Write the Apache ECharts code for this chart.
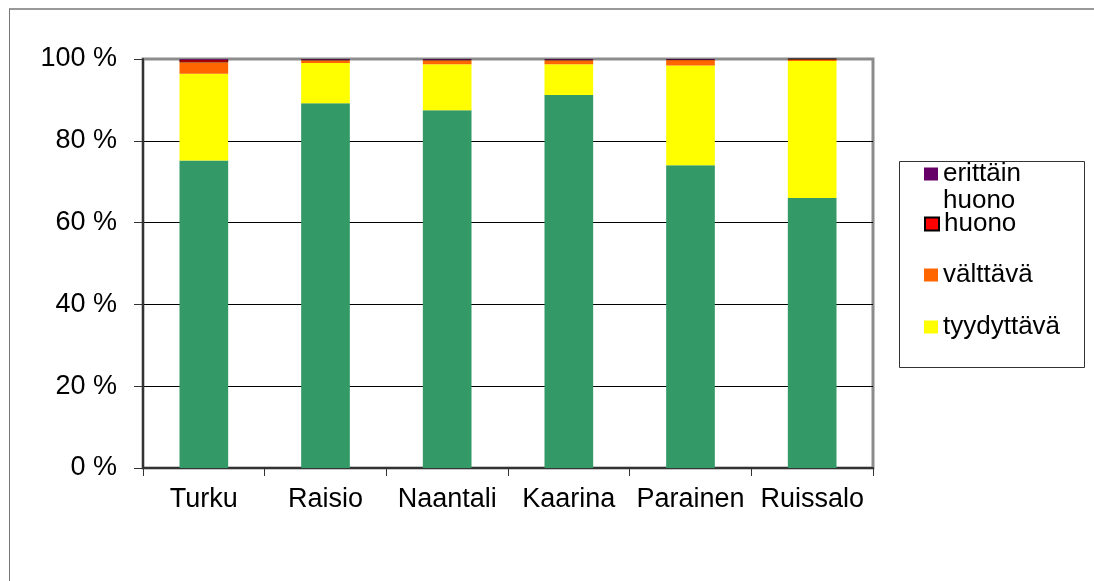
<!DOCTYPE html>
<html>
<head>
<meta charset="utf-8">
<style>
  html, body { margin: 0; padding: 0; background: #fff; }
  #chart { width: 1094px; height: 581px; }
</style>
<script src="https://cdn.jsdelivr.net/npm/echarts@6/dist/echarts.min.js"></script>
</head>
<body>
<div id="chart"></div>
<script>
// data (percent of each town)
var towns = ["Turku", "Raisio", "Naantali", "Kaarina", "Parainen", "Ruissalo"];
var hyva = [75.2, 89.2, 87.5, 91.2, 74.0, 66.0];
var tyydyttava = [21.2, 9.8, 11.2, 7.5, 24.4, 33.5];
var valttava = [2.8, 0.7, 1.0, 1.0, 1.4, 0.5];
var huono = [0.6, 0.2, 0.2, 0.2, 0.1, 0.0];
var erittainHuono = [0.2, 0.1, 0.1, 0.1, 0.1, 0.0];
var yTicks = [0, 20, 40, 60, 80, 100];

var font = "'Liberation Sans', Arial, sans-serif";
var chart = echarts.init(document.getElementById("chart"));

function bar(name, data, color, border) {
  return {
    name: name,
    type: "bar",
    stack: "all",
    barWidth: "40%",
    data: data,
    animation: false,
    itemStyle: {
      color: color,
      borderColor: border || color,
      borderWidth: border ? 0.6 : 0
    }
  };
}

// each legend entry placed by itself, like the excel legend
function legendItem(name, top) {
  return {
    data: [name],
    left: 924,
    top: top,
    padding: 0,
    itemWidth: 14,
    itemHeight: 13,
    itemGap: 0,
    selectedMode: false,
    icon: "rect",
    textStyle: { fontFamily: font, fontSize: 26, color: "#000", lineHeight: 30 }
  };
}

chart.setOption({
  backgroundColor: "#fff",
  animation: false,
  grid: {
    left: 143,
    right: 221,
    top: 59,
    bottom: 113,
    show: true,
    borderColor: "#8c8c8c",
    borderWidth: 3
  },
  legend: [
    Object.assign(legendItem("erittäin huono", 159), {
      formatter: function () { return "erittäin"; }
    }),
    legendItem("huono", 209),
    legendItem("välttävä", 260),
    legendItem("tyydyttävä", 312)
  ],
  xAxis: {
    type: "category",
    data: towns,
    axisLine: { lineStyle: { color: "#333", width: 2 } },
    axisTick: { show: true, length: 8, lineStyle: { color: "#333" } },
    axisLabel: { color: "#000", fontFamily: font, fontSize: 27, margin: 18, interval: 0 }
  },
  yAxis: {
    type: "value",
    min: yTicks[0],
    max: yTicks[yTicks.length - 1],
    interval: 20,
    axisLine: { show: true, lineStyle: { color: "#333", width: 2 } },
    axisTick: { show: true, length: 9, lineStyle: { color: "#333" } },
    axisLabel: {
      color: "#000",
      fontFamily: font,
      fontSize: 27,
      margin: 26,
      formatter: "{value} %"
    },
    splitLine: {
      show: true,
      lineStyle: { color: ["#000", "#000", "#000", "#000", "#000", "#8c8c8c"], width: 1 }
    }
  },
  graphic: [
    // outer chart frame
    { type: "line", shape: { x1: 9, y1: 9, x2: 1094, y2: 9 }, style: { stroke: "#999", lineWidth: 2 }, z: 0 },
    { type: "line", shape: { x1: 9.5, y1: 9, x2: 9.5, y2: 581 }, style: { stroke: "#777", lineWidth: 1 }, z: 0 },
    // legend box
    { type: "rect", shape: { x: 899.5, y: 161.5, width: 185, height: 206 }, style: { fill: "none", stroke: "#333", lineWidth: 1 }, z: 0 },
    // second line of the first legend entry
    { type: "text", left: 943, top: 188, style: { text: "huono", fontFamily: font, fontSize: 26, fill: "#000" } }
  ],
  series: [
    bar("hyvä", hyva, "#339966"),
    bar("tyydyttävä", tyydyttava, "#ffff00"),
    bar("välttävä", valttava, "#ff6600"),
    bar("huono", huono, "#ff0000", "#000"),
    bar("erittäin huono", erittainHuono, "#660066")
  ]
});
</script>
</body>
</html>
